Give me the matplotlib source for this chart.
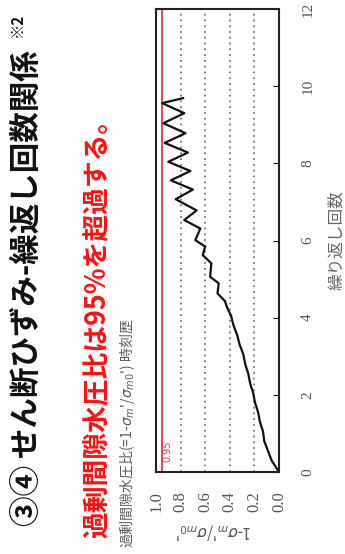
import matplotlib.pyplot as plt

plt.rcParams['font.family'] = ['Noto Sans CJK JP', 'DejaVu Sans']

# excess pore pressure ratio vs. number of cycles
cycles = [0.00, 0.30, 0.55, 0.80, 1.05, 1.30, 1.55, 1.80, 2.05, 2.30, 2.55,
          2.80, 3.05, 3.30, 3.55, 3.80, 4.05, 4.25, 4.43, 4.63, 4.89, 5.06,
          5.41, 5.62, 5.84, 6.01, 6.31, 6.53, 6.78, 7.07, 7.32, 7.56, 7.80,
          8.04, 8.28, 8.53, 8.78, 9.04, 9.30, 9.56, 9.69]
ratio = [0.00, 0.06, 0.09, 0.12, 0.13, 0.155, 0.17, 0.195, 0.21, 0.235, 0.25,
         0.275, 0.29, 0.32, 0.34, 0.37, 0.39, 0.42, 0.44, 0.50, 0.49, 0.56,
         0.55, 0.62, 0.60, 0.68, 0.64, 0.77, 0.67, 0.84, 0.70, 0.88, 0.72,
         0.90, 0.74, 0.93, 0.76, 0.94, 0.77, 0.95, 0.78]

cycle_ticks = [0, 2, 4, 6, 8, 10, 12]
ratio_ticks = [0.0, 0.2, 0.4, 0.6, 0.8, 1.0]
grid_levels = [0.2, 0.4, 0.6, 0.8]
threshold = 0.95

W, H = 345, 554
fig = plt.figure(figsize=(W / 100, H / 100), dpi=100)

# the whole chart is turned a quarter turn: cycles run upward, ratio runs leftward
ax = fig.add_axes([156 / W, 1 - 472 / H, 123 / W, 463 / H])
for g in grid_levels:
    ax.axvline(g, color='#7a7a7a', lw=1.3, ls=(0, (1, 2.2)))
ax.axvline(threshold, color='#e23a48', lw=1.3)
ax.plot(ratio, cycles, color='#111111', lw=1.6, solid_joinstyle='round')
ax.text(0.905, 0.55, '0.95', color='#e23a48', fontsize=7, rotation=90,
        ha='center', va='center', family='DejaVu Sans')

ax.set_xlim(1, 0)
ax.set_ylim(0, 12)
for s in ax.spines.values():
    s.set_linewidth(1.5)
    s.set_color('#222222')

ax.set_xticks(ratio_ticks)
ax.set_xticklabels([f'{t:.1f}' for t in ratio_ticks], rotation=90)
ax.yaxis.tick_right()
ax.set_yticks(cycle_ticks)
ax.set_yticklabels([str(t) for t in cycle_ticks], rotation=90, va='center')
ax.tick_params(axis='x', direction='in', length=0, pad=14, labelsize=12,
               labelcolor='#555555')
ax.tick_params(axis='y', direction='in', length=4, pad=16, labelsize=11,
               labelcolor='#555555')
for lab in ax.get_xticklabels() + ax.get_yticklabels():
    lab.set_fontfamily('Liberation Serif')


def fx(px):
    return px / W


def fy(py):
    return 1 - py / H


fig.text(fx(27), fy(526), '③④ せん断ひずみ-繰返し回数関係', rotation=90,
         ha='center', va='bottom', fontsize=22, fontweight='bold', color='#111111')
fig.text(fx(17), fy(13), '※2', rotation=90, ha='center', va='top',
         fontsize=11, fontweight='bold', color='#111111')
fig.text(fx(98), fy(538), '過剰間隙水圧比は95%を超過する。', rotation=90,
         ha='center', va='bottom', fontsize=19.3, fontweight='bold', color='#ff1010')
fig.text(fx(127), fy(548), "過剰間隙水圧比(=1-$\\sigma_m$'/$\\sigma_{m0}$') 時刻歴",
         rotation=90, ha='center', va='bottom', fontsize=10, color='#5a5a5a')
fig.text(fx(214), fy(531), "1-$\\sigma_m$'/$\\sigma_{m0}$'", rotation=180,
         ha='center', va='center', fontsize=11, color='#555555')
fig.text(fx(337), fy(240), '繰り返し回数', rotation=90, ha='center', va='center',
         fontsize=12, color='#666666')

fig.savefig('out.png', dpi=100)
